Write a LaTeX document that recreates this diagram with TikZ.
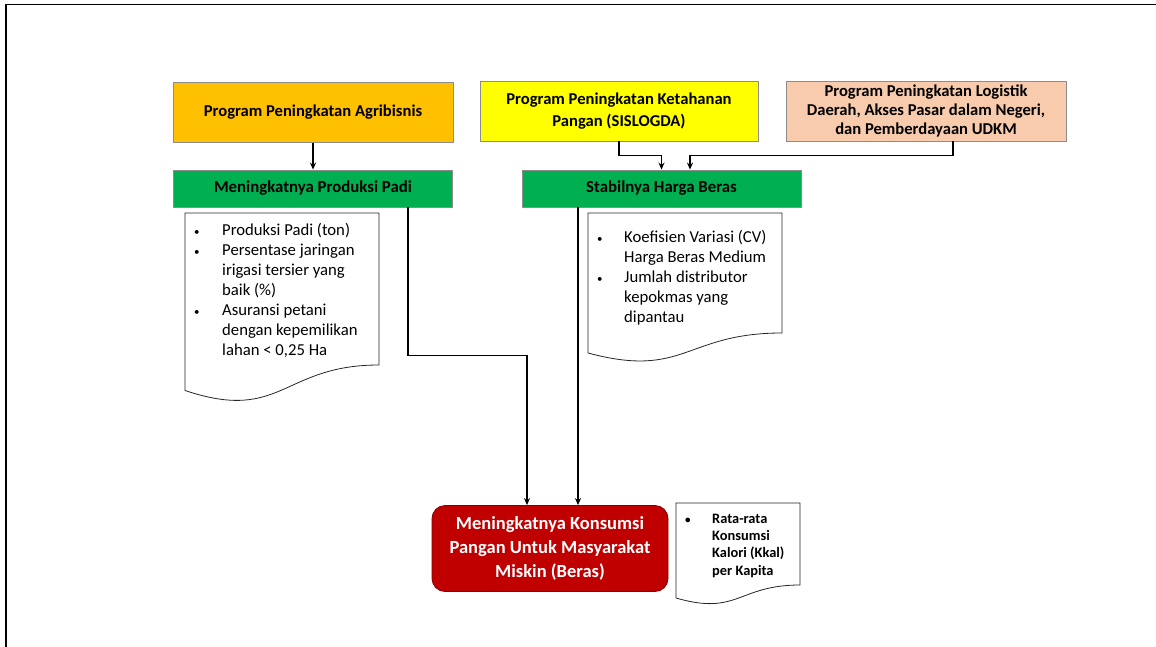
\documentclass[tikz,border=0pt]{standalone}
\usepackage{fontspec}
\setmainfont{Carlito}
\usepackage{tikz}
\usetikzlibrary{arrows.meta,positioning,calc}
\definecolor{agriorange}{HTML}{FFC000}
\definecolor{panganyellow}{HTML}{FFFF00}
\definecolor{logpeach}{HTML}{F8CBAD}
\definecolor{outgreen}{HTML}{00B050}
\definecolor{goalred}{HTML}{C00000}
\definecolor{edgegray}{HTML}{8C8C8C}
\newcommand{\pt}{{\fontsize{11}{11}\selectfont\textbullet}}

\begin{document}
\begin{tikzpicture}[x=1pt,y=-1pt,>={Stealth[length=7pt,width=6pt]},
    prog/.style={draw=edgegray,line width=0.8pt,minimum width=280pt,minimum height=60pt,
        align=center,font=\fontsize{16.6}{21.5}\selectfont\bfseries},
    hasil/.style={draw=edgegray,line width=0.8pt,fill=outgreen,minimum width=279pt,
        minimum height=37pt,font=\fontsize{16.8}{19}\selectfont\bfseries},
    dok/.style={draw=black!85,line width=0.8pt,fill=white},
    ket/.style={anchor=north west,inner sep=0pt,align=left},
    link/.style={->,line width=1.3pt}]
    \useasboundingbox (0,0) rectangle (1156,647);
    \draw[line width=1.6pt] (6,647) -- (6,4.5) -- (1156,4.5);

    \node[prog,fill=agriorange] (agri) at (313,112.5) {Program Peningkatan Agribisnis};
    \node[prog,fill=panganyellow,minimum width=278pt] (pangan) at (619,111)
        {Program Peningkatan Ketahanan\\Pangan (SISLOGDA)};
    \node[prog,fill=logpeach,font=\fontsize{16.6}{19}\selectfont\bfseries] (logistik) at (926,111)
        {Program Peningkatan Logistik\\Daerah, Akses Pasar dalam Negeri,\\dan Pemberdayaan UDKM};

    \node[hasil] (padi) at (313,188.5) {Meningkatnya Produksi Padi};
    \node[hasil] (harga) at (661.5,188.5) {Stabilnya Harga Beras};

    \node[draw=goalred!70!black,line width=0.8pt,fill=goalred,rounded corners=13pt,
        minimum width=236pt,minimum height=86pt,align=center,text=white,
        font=\fontsize{18.5}{24}\selectfont\bfseries] (konsumsi) at (550,548.5)
        {Meningkatnya Konsumsi\\Pangan Untuk Masyarakat\\Miskin (Beras)};

    % dokumen indikator
    \draw[dok] (185,213) -- (379,213) -- (379,365)
        .. controls (282,365) and (282,423) .. (185,390.5) -- cycle;
    \draw[dok] (588,213) -- (782,213) -- (782,333)
        .. controls (685,333) and (685,379) .. (588,353) -- cycle;
    \draw[dok] (676,503) -- (800,503) -- (800,585)
        .. controls (738,585) and (738,616) .. (676,598) -- cycle;

    \node[ket,font=\fontsize{16.7}{20}\selectfont] (indpadi) at (194,221)
        {\begin{tabular}{@{}p{28pt}@{}l@{}}
        \pt & Produksi Padi (ton)\\
        \pt & Persentase jaringan\\
        & irigasi tersier yang\\
        & baik (\%)\\
        \pt & Asuransi petani\\
        & dengan kepemilikan\\
        & lahan < 0,25 Ha
        \end{tabular}};
    \node[ket,font=\fontsize{16.7}{20}\selectfont] (indharga) at (597,228)
        {\begin{tabular}{@{}p{27pt}@{}l@{}}
        \pt & Koefisien Variasi (CV)\\
        & Harga Beras Medium\\
        \pt & Jumlah distributor\\
        & kepokmas yang\\
        & dipantau
        \end{tabular}};
    \node[ket,font=\fontsize{14.4}{17.3}\selectfont\bfseries] (indkonsumsi) at (685,511)
        {\begin{tabular}{@{}p{27pt}@{}l@{}}
        \pt & Rata-rata\\
        & Konsumsi\\
        & Kalori (Kkal)\\
        & per Kapita
        \end{tabular}};

    \draw[link] (agri) -- (padi);
    \draw[link] (pangan.south) -- ++(0,14) -| (harga.north);
    \draw[link] ([xshift=27pt]logistik.south) -- ++(0,14) -| ([xshift=28.5pt]harga.north);
    \draw[link] ([xshift=95pt]padi.south) -- ++(0,148) -| ([xshift=-23pt]konsumsi.north);
    \draw[link] ([xshift=-83.5pt]harga.south) -- ([xshift=28pt]konsumsi.north);
\end{tikzpicture}
\end{document}
